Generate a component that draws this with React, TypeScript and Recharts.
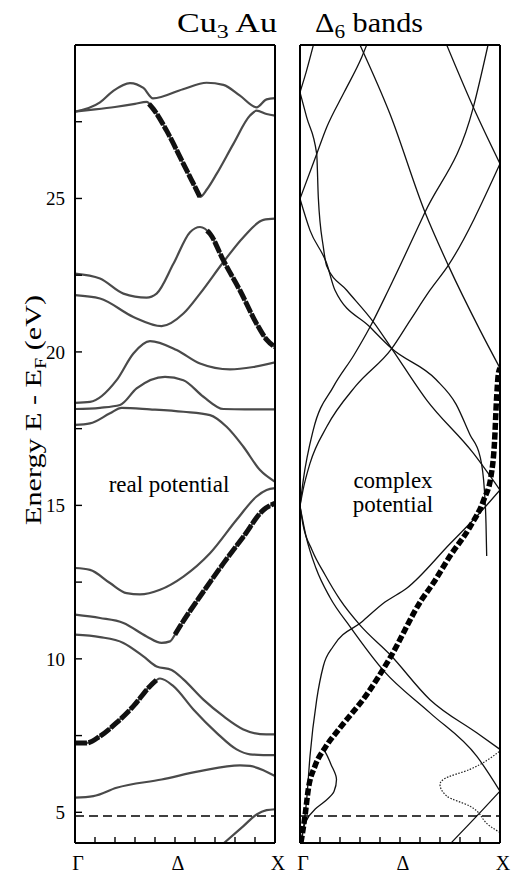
import { Line, LineChart, ReferenceLine, XAxis, YAxis } from 'recharts'

const FONT = '"Liberation Serif", "DejaVu Serif", serif'

// axis values
const X_TICKS = [0, 0.1, 0.2, 0.3, 0.4, 0.5, 0.6, 0.7, 0.8, 0.9, 1]
const Y_TICKS = [5, 7.5, 10, 12.5, 15, 17.5, 20, 22.5, 25, 27.5]
const Y_LABELS = [5, 10, 15, 20, 25]
const K_LABELS: Record<string, string> = { '0': 'Γ', '0.5': 'Δ', '1': 'X' }
const E_DOMAIN: [number, number] = [4, 30]
const DASHED_LEVEL = 4.88

type Pair = [number, number]

// ---- real potential bands, [k, E] ----
const bandA: Pair[] = [[0, 27.83], [0.125, 28.13], [0.19, 28.5], [0.275, 28.76], [0.342, 28.6], [0.39, 28.26], [0.54, 28.56], [0.658, 28.77], [0.742, 28.7], [0.825, 28.35], [0.908, 27.97], [0.958, 28.23], [1, 28.27]]
const bandB: Pair[] = [[0, 27.83], [0.1, 27.9], [0.2, 27.98], [0.3, 28.08], [0.358, 28.15], [0.392, 27.91], [0.458, 27.21], [0.542, 26.13], [0.592, 25.48], [0.625, 25.05], [0.66, 25.3], [0.708, 25.8], [0.792, 26.78], [0.875, 27.7], [0.908, 27.86], [0.958, 27.75], [1, 27.7]]
const bandC: Pair[] = [[0, 22.55], [0.125, 22.39], [0.242, 21.9], [0.358, 21.77], [0.408, 21.9], [0.492, 22.87], [0.575, 23.9], [0.625, 24.07], [0.675, 23.85], [0.742, 22.98], [0.825, 22.0], [0.908, 20.92], [0.958, 20.4], [1, 20.16]]
const bandD: Pair[] = [[0, 21.85], [0.125, 21.74], [0.292, 21.14], [0.433, 20.84], [0.542, 21.25], [0.625, 21.9], [0.742, 22.93], [0.842, 23.74], [0.942, 24.3], [1, 24.34]]
const bandE: Pair[] = [[0, 18.34], [0.075, 18.37], [0.208, 19.08], [0.292, 19.95], [0.375, 20.35], [0.508, 20.06], [0.625, 19.62], [0.775, 19.43], [0.892, 19.51], [1, 19.66]]
const bandF: Pair[] = [[0, 18.14], [0.125, 18.18], [0.225, 18.27], [0.308, 18.81], [0.45, 19.19], [0.542, 19.08], [0.642, 18.54], [0.742, 18.14], [0.85, 18.13], [1, 18.13]]
const bandG: Pair[] = [[0, 17.62], [0.075, 17.67], [0.175, 18.0], [0.233, 18.18], [0.375, 18.13], [0.542, 18.05], [0.675, 17.94], [0.758, 17.56], [0.842, 16.91], [0.925, 16.15], [1, 15.77]]
const bandH: Pair[] = [[0, 12.96], [0.075, 12.9], [0.175, 12.47], [0.258, 12.14], [0.325, 12.1], [0.425, 12.25], [0.542, 12.68], [0.675, 13.44], [0.808, 14.53], [0.908, 15.29], [0.958, 15.5], [1, 15.56]]
const bandI: Pair[] = [[0, 11.44], [0.125, 11.33], [0.242, 11.17], [0.358, 10.73], [0.433, 10.52], [0.475, 10.57], [0.5, 10.79], [0.525, 11.06], [0.625, 12.03], [0.742, 13.11], [0.842, 13.98], [0.942, 14.85], [1, 15.07]]
const bandJ: Pair[] = [[0, 10.79], [0.125, 10.71], [0.242, 10.52], [0.342, 10.08], [0.408, 9.75], [0.483, 9.64], [0.542, 9.33], [0.642, 8.67], [0.742, 8.13], [0.842, 7.7], [0.925, 7.55], [1, 7.54]]
const bandK: Pair[] = [[0, 7.26], [0.058, 7.26], [0.125, 7.48], [0.208, 7.92], [0.292, 8.46], [0.375, 9.11], [0.425, 9.36], [0.492, 9.11], [0.592, 8.35], [0.708, 7.59], [0.808, 7.05], [0.875, 6.89], [1, 6.86]]
const bandL: Pair[] = [[0, 5.48], [0.092, 5.53], [0.208, 5.8], [0.433, 6.07], [0.625, 6.34], [0.825, 6.53], [0.875, 6.51], [1, 6.18]]
const bandM: Pair[] = [[0.745, 4.0], [0.842, 4.55], [0.908, 4.93], [0.958, 5.07], [1, 5.1]]

// highlighted pieces of the real bands
const boldB: Pair[] = [[0.37, 28.08], [0.392, 27.91], [0.458, 27.21], [0.542, 26.13], [0.592, 25.48], [0.625, 25.05]]
const boldC: Pair[] = [[0.66, 23.95], [0.675, 23.85], [0.742, 22.98], [0.825, 22.0], [0.908, 20.92], [0.958, 20.4], [1, 20.16]]
const boldI: Pair[] = [[0.5, 10.79], [0.525, 11.06], [0.625, 12.03], [0.742, 13.11], [0.842, 13.98], [0.942, 14.85], [1, 15.07]]
const boldK: Pair[] = [[0, 7.26], [0.058, 7.26], [0.125, 7.48], [0.208, 7.92], [0.292, 8.46], [0.375, 9.11], [0.41, 9.32]]

// ---- complex potential bands ----
const cA: Pair[] = [[0, 28.46], [0.03, 29.1], [0.067, 30]]
const cB: Pair[] = [[0, 28.46], [0.0335, 27.64], [0.0835, 26.45], [0.0915, 25.04], [0.1165, 23.42], [0.1335, 22.8], [0.2335, 22.01], [0.3665, 20.98], [0.4585, 20.11], [0.6335, 18.43], [0.8665, 16.7], [1, 15.5]]
const cC: Pair[] = [[0, 24.99], [0.0835, 26.45], [0.1335, 27.32], [0.22, 28.45], [0.3085, 29.6], [0.3335, 30]]
const cD: Pair[] = [[0, 24.99], [0.05, 23.96], [0.1335, 22.88], [0.175, 22.01], [0.35, 20.81], [0.4585, 20.11], [0.68, 19.1], [0.78, 18.3], [0.85, 17.3], [0.9, 16.6], [0.922, 15.5], [0.93, 14.4], [0.9335, 13.35]]
const cE: Pair[] = [[0.3, 30], [0.45, 27.75], [0.625, 24.55], [0.7415, 22.82], [0.9, 20.71], [1, 19.47]]
const cF: Pair[] = [[0, 14.98], [0.0165, 15.83], [0.0665, 17.46], [0.1665, 18.86], [0.27, 19.9], [0.35, 20.81], [0.4415, 22.01], [0.625, 24.55], [0.8665, 27.97], [0.94, 30]]
const cG: Pair[] = [[0.7335, 30], [0.8665, 27.97], [1, 26.13]]
const cH: Pair[] = [[0, 14.98], [0.015, 15.5], [0.05, 16.37], [0.1335, 17.56], [0.28, 18.9], [0.4585, 20.11], [0.55, 21.02], [0.65, 22.01], [0.7415, 22.82], [1, 26.13]]
const cI: Pair[] = [[0, 14.98], [0.03, 14.0], [0.08, 12.95], [0.15, 12.0], [0.25, 11.05], [0.42, 9.6], [0.65, 8.24], [0.8835, 6.83], [1, 5.69]]
const cJ: Pair[] = [[0, 14.98], [0.015, 14.37], [0.06, 13.55], [0.125, 12.74], [0.2, 11.93], [0.3, 11.1], [0.45, 10.14], [0.65, 8.67], [0.8835, 7.59], [1, 7.05]]
const cK: Pair[] = [[0.755, 4.0], [0.88, 4.85], [1, 5.69]]
const cL: Pair[] = [[0.0075, 4.02], [0.0165, 4.45], [0.0335, 5.42], [0.05, 6.83], [0.0835, 8.67], [0.1165, 9.76], [0.1665, 10.41], [0.3085, 11.2], [0.425, 11.85], [0.5335, 12.3], [0.75, 13.75], [0.9, 14.76], [1, 15.5]]
// listed by rising energy (curves turn back in k)
const cBump: Pair[] = [[0.005, 4.02], [0.03, 4.71], [0.075, 5.1], [0.125, 5.36], [0.17, 5.68], [0.1825, 6.07], [0.155, 6.56], [0.125, 6.98], [0.115, 7.08]]
const cDotted: Pair[] = [[1, 4.34], [0.95, 4.55], [0.85, 5.2], [0.7335, 5.53], [0.7, 5.91], [0.7165, 6.07], [0.85, 6.4], [1, 7.0]]
const cBold: Pair[] = [[0.005, 4.02], [0.025, 4.88], [0.0415, 5.75], [0.075, 6.51], [0.125, 7.1], [0.2, 7.75], [0.335, 8.85], [0.45, 10.03], [0.6085, 11.93], [0.6665, 12.47], [0.75, 13.35], [0.85, 14.3], [0.92, 15.2], [0.955, 15.95], [0.972, 17.0], [0.983, 18.5], [0.992, 19.3], [1, 19.47]]

const realBands = [bandA, bandB, bandC, bandD, bandE, bandF, bandG, bandH, bandI, bandJ, bandK, bandL, bandM]
const realBold = [boldB, boldC, boldI, boldK]
const complexThin = [cA, cB, cC, cD, cE, cF, cG, cH, cI, cJ, cK, cL]

function toPoints(pairs: Pair[]) {
  return pairs.map(([k, E]) => ({ k, E }))
}

function kLabel(value: number) {
  return K_LABELS[String(value)] ?? ''
}

function eLabel(value: number) {
  return Y_LABELS.includes(value) ? String(value) : ''
}

const frame = { stroke: '#000', strokeWidth: 2 }
const tickStroke = { stroke: '#000', strokeWidth: 1.4 }

function Axes({ showLabels, leftWidth }: { showLabels: boolean; leftWidth: number }) {
  return [
    <XAxis
      key="xb"
      xAxisId="b"
      type="number"
      dataKey="k"
      domain={[0, 1]}
      ticks={X_TICKS}
      interval={0}
      allowDataOverflow
      height={32}
      tickSize={-6}
      tickMargin={19}
      axisLine={frame}
      tickLine={tickStroke}
      tickFormatter={kLabel}
      tick={{ fontSize: 20, fill: '#000', fontFamily: FONT, dx: 3 }}
    />,
    <XAxis
      key="xt"
      xAxisId="t"
      orientation="top"
      type="number"
      dataKey="k"
      domain={[0, 1]}
      ticks={X_TICKS}
      interval={0}
      height={1}
      tickSize={-6}
      axisLine={frame}
      tickLine={tickStroke}
      tick={false}
    />,
    <YAxis
      key="yl"
      yAxisId="l"
      type="number"
      domain={E_DOMAIN}
      ticks={Y_TICKS}
      interval={0}
      allowDataOverflow
      width={leftWidth}
      tickSize={-7}
      tickMargin={17}
      axisLine={frame}
      tickLine={tickStroke}
      tickFormatter={eLabel}
      tick={showLabels ? { fontSize: 19, fill: '#000', fontFamily: FONT } : false}
    />,
    <YAxis
      key="yr"
      yAxisId="r"
      orientation="right"
      type="number"
      domain={E_DOMAIN}
      ticks={Y_TICKS}
      interval={0}
      width={1}
      tickSize={-7}
      axisLine={frame}
      tickLine={tickStroke}
      tick={false}
    />,
  ]
}

function RealPanel() {
  return (
    <LineChart width={290} height={875} margin={{ top: 44, right: 14, bottom: 0, left: 0 }}>
      {Axes({ showLabels: true, leftWidth: 75 })}
      {realBands.map((band, i) => (
        <Line
          key={`real-${i}`}
          xAxisId="b"
          yAxisId="l"
          data={toPoints(band)}
          dataKey="E"
          type="monotone"
          stroke="#4a4a4a"
          strokeWidth={2.2}
          dot={false}
          isAnimationActive={false}
        />
      ))}
      {realBold.map((band, i) => (
        <Line
          key={`bold-${i}`}
          xAxisId="b"
          yAxisId="l"
          data={toPoints(band)}
          dataKey="E"
          type="monotone"
          stroke="#111"
          strokeWidth={5}
          strokeDasharray="12 1.5"
          dot={false}
          isAnimationActive={false}
        />
      ))}
      <ReferenceLine xAxisId="b" yAxisId="l" y={DASHED_LEVEL} stroke="#000" strokeWidth={1.6} strokeDasharray="9 5" />
    </LineChart>
  )
}

function ComplexPanel() {
  return (
    <LineChart width={231} height={875} margin={{ top: 44, right: 20, bottom: 0, left: 0 }}>
      {Axes({ showLabels: false, leftWidth: 10 })}
      {complexThin.map((band, i) => (
        <Line
          key={`cx-${i}`}
          xAxisId="b"
          yAxisId="l"
          data={toPoints(band)}
          dataKey="E"
          type="monotone"
          stroke="#111"
          strokeWidth={1.3}
          dot={false}
          isAnimationActive={false}
        />
      ))}
      <Line
        xAxisId="b"
        yAxisId="l"
        data={toPoints(cBump)}
        dataKey="E"
        type="monotoneY"
        stroke="#111"
        strokeWidth={1.3}
        dot={false}
        isAnimationActive={false}
      />
      <Line
        xAxisId="b"
        yAxisId="l"
        data={toPoints(cDotted)}
        dataKey="E"
        type="monotoneY"
        stroke="#222"
        strokeWidth={1.2}
        strokeDasharray="1.5 1.5"
        dot={false}
        isAnimationActive={false}
      />
      <Line
        xAxisId="b"
        yAxisId="l"
        data={toPoints(cBold)}
        dataKey="E"
        type="monotone"
        stroke="#000"
        strokeWidth={5.5}
        strokeDasharray="7 2.5"
        dot={false}
        isAnimationActive={false}
      />
      <ReferenceLine xAxisId="b" yAxisId="l" y={DASHED_LEVEL} stroke="#000" strokeWidth={1.6} strokeDasharray="9 5" />
    </LineChart>
  )
}

export default function App() {
  return (
    <div style={{ position: 'absolute', left: 0, top: 0, width: 521, height: 875, background: '#fff' }}>
      <div style={{ position: 'absolute', left: 0, top: 0 }}>
        <RealPanel />
      </div>
      <div style={{ position: 'absolute', left: 290, top: 0 }}>
        <ComplexPanel />
      </div>
      <svg
        width={521}
        height={875}
        style={{ position: 'absolute', left: 0, top: 0, pointerEvents: 'none' }}
        fontFamily={FONT}
        fill="#000"
      >
        <text x={177} y={32} fontSize={27} textLength={100} lengthAdjust="spacingAndGlyphs">
          Cu<tspan dy={6} fontSize={19}>3</tspan>
          <tspan dy={-6}> Au</tspan>
        </text>
        <text x={315} y={32} fontSize={27} textLength={108} lengthAdjust="spacingAndGlyphs">
          Δ<tspan dy={6} fontSize={19}>6</tspan>
          <tspan dy={-6}> bands</tspan>
        </text>
        <text
          transform="translate(41,410) rotate(-90)"
          textAnchor="middle"
          fontSize={24}
          textLength={230}
          lengthAdjust="spacingAndGlyphs"
        >
          Energy E - E<tspan dy={5} fontSize={16}>F</tspan>
          <tspan dy={-5}> (eV)</tspan>
        </text>
        <text x={169} y={492} textAnchor="middle" fontSize={23}>
          real potential
        </text>
        <text x={393} y={488} textAnchor="middle" fontSize={23}>
          complex
        </text>
        <text x={393} y={512} textAnchor="middle" fontSize={23}>
          potential
        </text>
      </svg>
    </div>
  )
}
